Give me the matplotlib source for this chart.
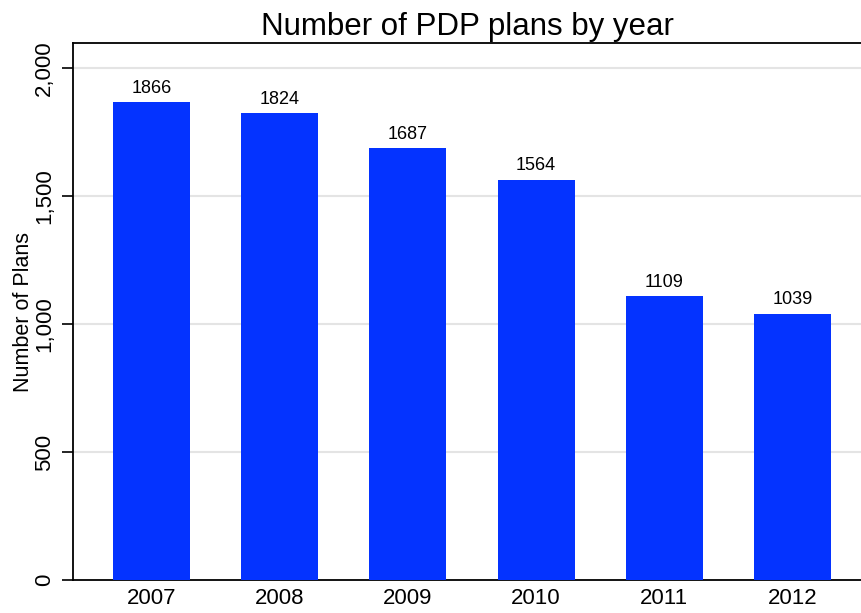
import matplotlib.pyplot as plt
from matplotlib.ticker import FuncFormatter

years = ['2007', '2008', '2009', '2010', '2011', '2012']
plans = [1866, 1824, 1687, 1564, 1109, 1039]
yticks = [0, 500, 1000, 1500, 2000]

plt.rcParams['font.family'] = ['Liberation Sans', 'DejaVu Sans']

fig = plt.figure(figsize=(8.62, 6.13), dpi=100)
ax = fig.add_axes([73 / 862, 33 / 613, 789 / 862, 537 / 613])

pos = list(range(len(years)))
ax.bar(pos, plans, width=0.6, color='#0433ff', zorder=3)
for x, v in zip(pos, plans):
    ax.text(x, v + 22, str(v), ha='center', va='bottom', fontsize=13, color='black', zorder=4)

ax.set_xlim(-0.61, 5.54)
ax.set_ylim(0, 2098)
ax.set_xticks(pos)
ax.set_xticklabels(years, fontsize=16)
ax.set_yticks(yticks)
ax.yaxis.set_major_formatter(FuncFormatter(lambda v, p: f'{int(v):,}'))
for lab in ax.get_yticklabels():
    lab.set_rotation(90)
    lab.set_va('center')
    lab.set_fontsize(16)
ax.tick_params(axis='x', length=0, pad=6)
ax.tick_params(axis='y', length=8, width=1.2, pad=5)

for t in yticks[1:]:
    ax.axhline(t, color='#e4e4e4', lw=1.5, zorder=1)

ax.spines['right'].set_visible(False)
for s in ['left', 'bottom', 'top']:
    ax.spines[s].set_linewidth(1.3)

ax.set_ylabel('Number of Plans', fontsize=15.5, labelpad=0)
ax.set_title('Number of PDP plans by year', fontsize=22.5, pad=6)

fig.savefig('out.png', dpi=100)
